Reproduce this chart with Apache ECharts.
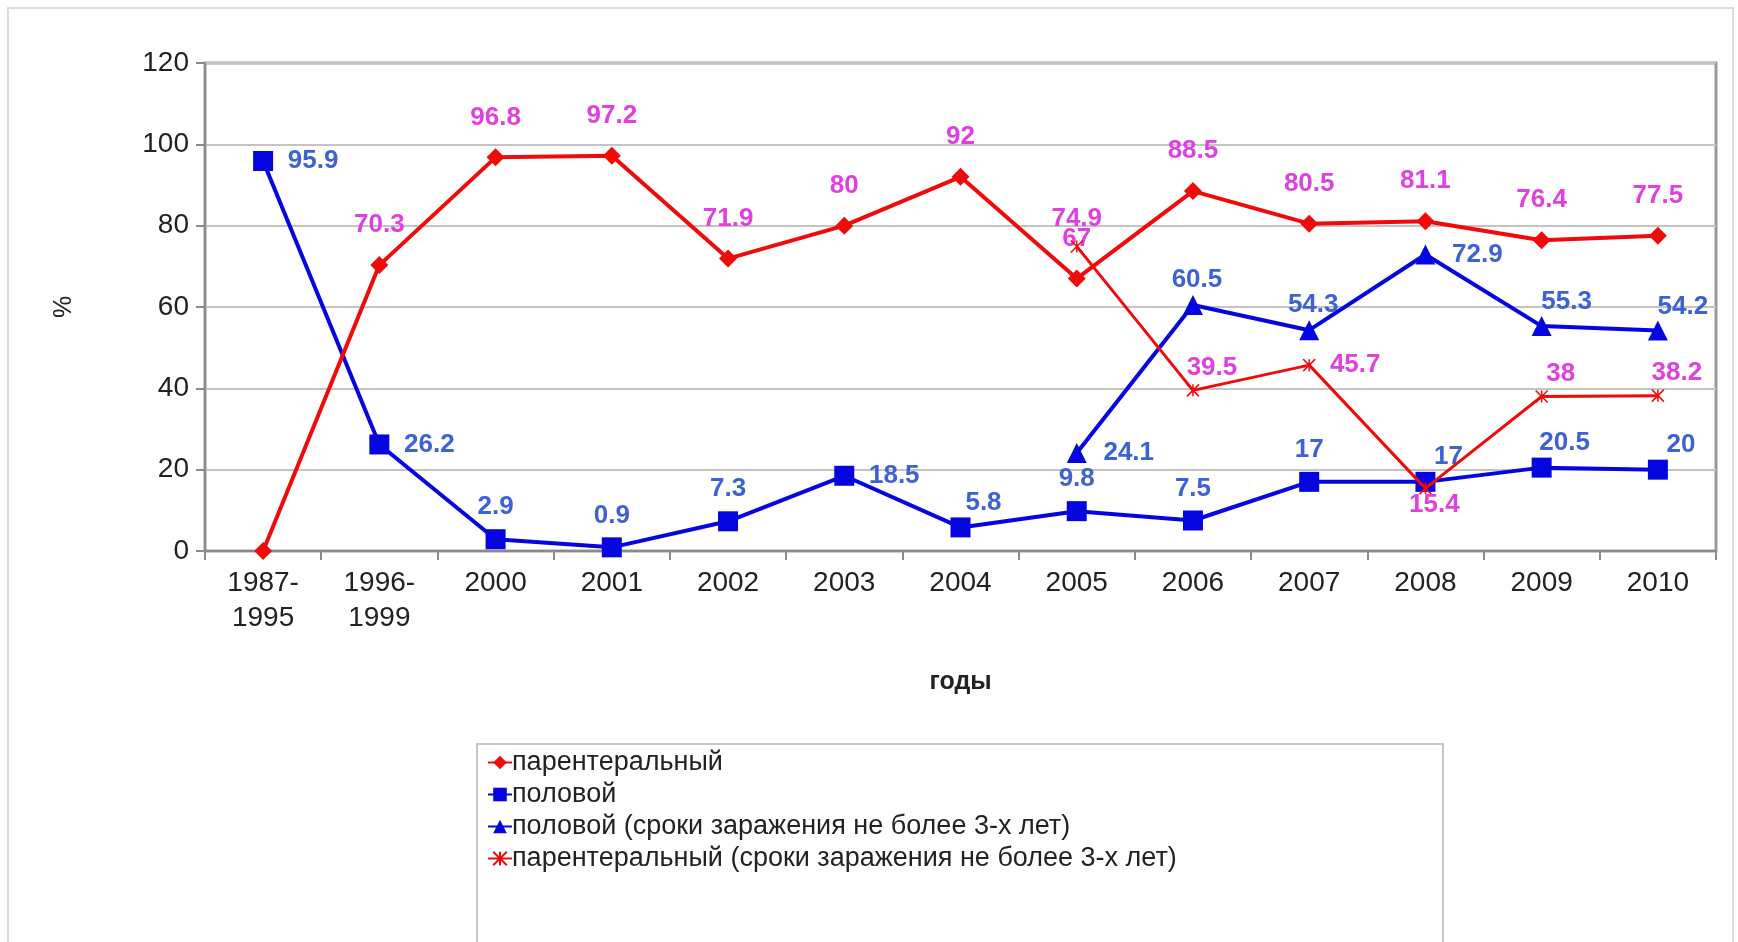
<!DOCTYPE html>
<html>
<head>
<meta charset="utf-8">
<script src="https://cdn.jsdelivr.net/npm/echarts@6/dist/echarts.min.js"></script>
<style>
html,body{margin:0;padding:0;background:#fff;}
#main{width:1738px;height:942px;}
</style>
</head>
<body>
<div id="main"></div>
<script>
var years = ['1987-\n1995','1996-\n1999','2000','2001','2002','2003','2004','2005','2006','2007','2008','2009','2010'];
var yTicks = [0,20,40,60,80,100,120];

// парентеральный
var parenteral = [0,70.3,96.8,97.2,71.9,80,92,67,88.5,80.5,81.1,76.4,77.5];
// половой
var sexual = [95.9,26.2,2.9,0.9,7.3,18.5,5.8,9.8,7.5,17,17,20.5,20];
// половой (сроки заражения не более 3-х лет)
var sexual3 = [null,null,null,null,null,null,null,24.1,60.5,54.3,72.9,55.3,54.2];
// парентеральный (сроки заражения не более 3-х лет)
var parenteral3 = [null,null,null,null,null,null,null,74.9,39.5,45.7,15.4,38,38.2];

// where each value label sits: t = top, tr = top-right, r = right, b = bottom, '' = none
var parenteralLbl = ['','t','t','t','t','t','t','t','t','t','t','t','t'];
var sexualLbl = ['r','r','t','t','t','r','tr','t','t','t','tr','tr','tr'];
var sexual3Lbl = ['','','','','','','','r','t','t','r','tr','tr'];
var parenteral3Lbl = ['','','','','','','','t','tr','r','b','tr','tr'];

var myChart = echarts.init(document.getElementById('main'));

var FONT = '"Liberation Sans", Arial, sans-serif';
var RED = '#f00a0a', BLUE = '#0505e0';
var MAGENTA = '#e040e0', LBLUE = '#3d62d2';

function buildData(values, places, offsets, color){
    var out = [];
    for (var i = 0; i < values.length; i++) {
        var p = places[i];
        var item = { value: values[i] };
        if (!p) {
            item.label = { show: false };
        } else {
            item.label = { show: true, position: 'inside', offset: offsets[p], color: color };
        }
        out.push(item);
    }
    return out;
}

var labelBase = {
    show: true,
    fontFamily: FONT,
    fontSize: 26,
    fontWeight: 'bold'
};

var option = {
    animation: false,
    backgroundColor: '#fff',
    textStyle: { fontFamily: FONT },
    graphic: [
        {
            type: 'rect',
            shape: { x: 8, y: 8, width: 1725, height: 960 },
            style: { fill: 'none', stroke: '#dcdcdc', lineWidth: 2 },
            silent: true
        },
        {
            type: 'rect',
            shape: { x: 477, y: 744, width: 966, height: 210 },
            style: { fill: 'none', stroke: '#c8c8c8', lineWidth: 2 },
            silent: true
        }
    ],
    grid: {
        left: 205,
        right: 22,
        top: 63,
        bottom: 391,
        show: true,
        borderColor: '#9a9a9a',
        borderWidth: 3
    },
    legend: {
        orient: 'vertical',
        left: 482,
        top: 744,
        itemWidth: 24,
        itemHeight: 17,
        itemGap: 5,
        textStyle: { fontFamily: FONT, fontSize: 27, lineHeight: 26, color: '#222', padding: [0,0,0,-5] },
        data: ['парентеральный','половой','половой (сроки заражения не более 3-х лет)','парентеральный (сроки заражения не более 3-х лет)']
    },
    xAxis: {
        type: 'category',
        data: years,
        boundaryGap: true,
        name: 'годы',
        nameLocation: 'middle',
        nameGap: 119,
        nameTextStyle: { fontFamily: FONT, fontSize: 25, fontWeight: 'bold', color: '#222' },
        axisLine: { lineStyle: { color: '#8a8a8a', width: 2 } },
        axisTick: { show: true, length: 9, lineStyle: { color: '#8a8a8a', width: 2 } },
        axisLabel: { fontFamily: FONT, fontSize: 28, color: '#222', margin: 15, lineHeight: 35, interval: 0 }
    },
    yAxis: {
        type: 'value',
        min: yTicks[0],
        max: yTicks[yTicks.length - 1],
        interval: 20,
        name: '%',
        nameLocation: 'middle',
        nameGap: 128,
        nameTextStyle: { fontFamily: FONT, fontSize: 25, color: '#222' },
        axisLine: { show: true, lineStyle: { color: '#8a8a8a', width: 2 } },
        axisTick: { show: true, length: 9, lineStyle: { color: '#8a8a8a', width: 2 } },
        axisLabel: { fontFamily: FONT, fontSize: 28, color: '#222', margin: 16 },
        splitLine: { show: true, lineStyle: { color: '#c4c4c4', width: 2 } }
    },
    series: [
        {
            name: 'парентеральный',
            type: 'line',
            symbol: 'diamond',
            symbolSize: 18,
            lineStyle: { color: RED, width: 4 },
            itemStyle: { color: RED },
            label: labelBase,
            data: buildData(parenteral, parenteralLbl, { t: [0, -40] }, MAGENTA),
            z: 3
        },
        {
            name: 'половой',
            type: 'line',
            symbol: 'rect',
            symbolSize: 20,
            lineStyle: { color: BLUE, width: 4 },
            itemStyle: { color: BLUE },
            label: labelBase,
            data: buildData(sexual, sexualLbl, { t: [0, -32], tr: [23, -25], r: [50, 0] }, LBLUE),
            z: 2
        },
        {
            name: 'половой (сроки заражения не более 3-х лет)',
            type: 'line',
            symbol: 'triangle',
            symbolSize: 20,
            lineStyle: { color: BLUE, width: 4 },
            itemStyle: { color: BLUE },
            label: labelBase,
            data: buildData(sexual3, sexual3Lbl, { t: [4, -25], tr: [25, -24], r: [52, 0] }, LBLUE),
            z: 2
        },
        {
            name: 'парентеральный (сроки заражения не более 3-х лет)',
            type: 'line',
            symbol: 'path://M0,0L10,10M10,0L0,10M5,0L5,10',
            symbolSize: 12,
            lineStyle: { color: RED, width: 3 },
            itemStyle: { color: 'none', borderColor: RED, borderWidth: 1.5 },
            label: labelBase,
            data: buildData(parenteral3, parenteral3Lbl, { t: [0, -28], tr: [19, -23], r: [46, 0], b: [9, 16] }, MAGENTA),
            z: 4
        }
    ]
};

myChart.setOption(option);
</script>
</body>
</html>
